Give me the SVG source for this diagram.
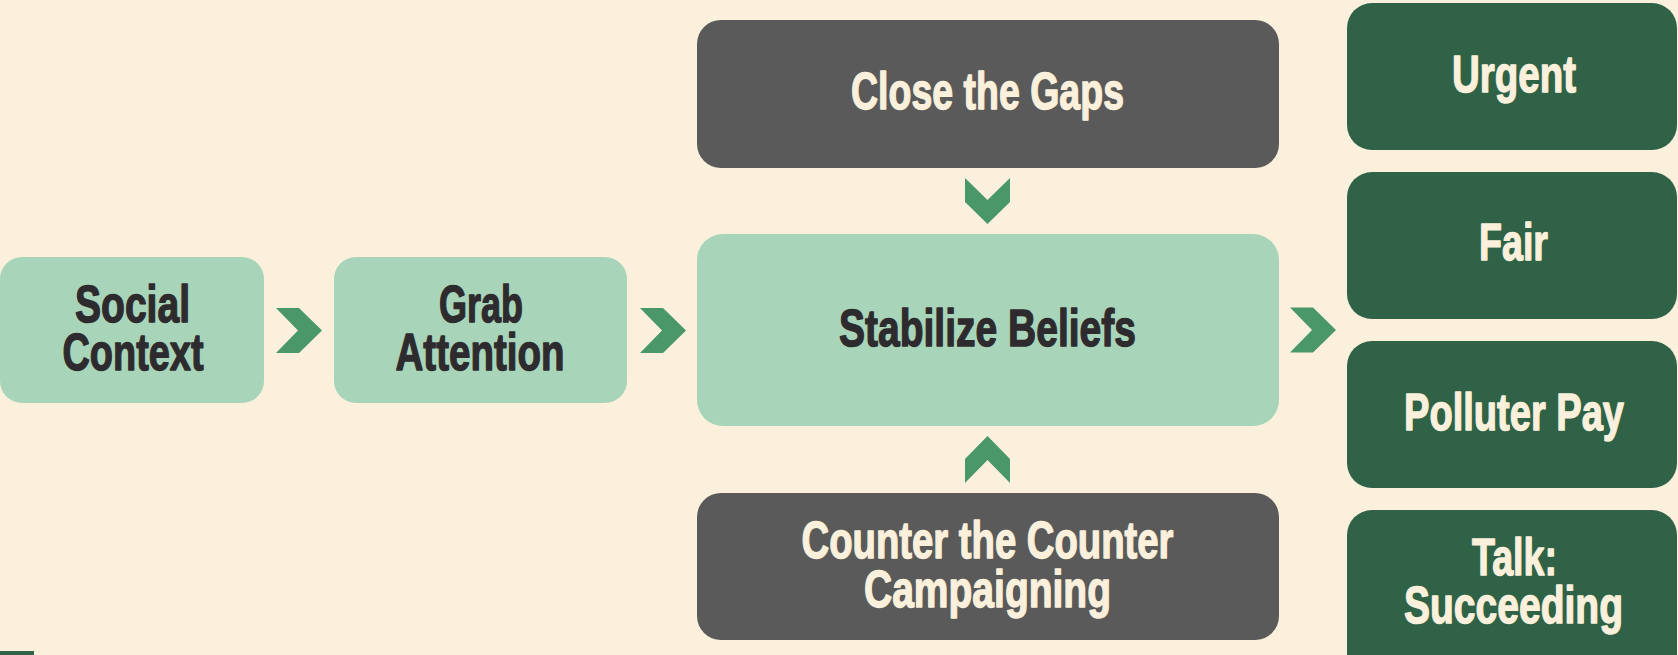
<svg xmlns="http://www.w3.org/2000/svg" width="1678" height="655" viewBox="0 0 1678 655">
  <defs>
    <style>
      .bg { fill: #FAF0DC; }
      .light { fill: #A8D5BA; }
      .grey { fill: #5A5A5A; }
      .deep { fill: #2F6246; }
      .chev { fill: #4A976A; }
      text { font-family: "Liberation Sans", Arial, sans-serif; font-weight: bold; font-size: 52px; text-anchor: middle; stroke-width: 1.4px; stroke-linejoin: round; }
      .dark { fill: #2E2B2E; stroke: #2E2B2E; }
      .pale { fill: #FAF0DC; stroke: #FAF0DC; }
    </style>
    <!-- chevron pointing right, 46 x 45 -->
    <polygon id="chevR" points="0,0 23,0 46,22.5 23,45 0,45 22,22.5"/>
  </defs>

  <rect class="bg" x="0" y="0" width="1678" height="655"/>

  <g id="social-context">
    <rect class="light" x="0" y="257" width="264" height="146" rx="22"/>
    <text class="dark" x="132.5" y="322" textLength="115" lengthAdjust="spacingAndGlyphs">Social</text>
    <text class="dark" x="133" y="370" textLength="141" lengthAdjust="spacingAndGlyphs">Context</text>
  </g>

  <g id="grab-attention">
    <rect class="light" x="334" y="257" width="293" height="146" rx="22"/>
    <text class="dark" x="481" y="322" textLength="84" lengthAdjust="spacingAndGlyphs">Grab</text>
    <text class="dark" x="480" y="370" textLength="169" lengthAdjust="spacingAndGlyphs">Attention</text>
  </g>

  <g id="close-the-gaps">
    <rect class="grey" x="697" y="20" width="582" height="148" rx="24"/>
    <text class="pale" x="987.5" y="109" textLength="273" lengthAdjust="spacingAndGlyphs">Close the Gaps</text>
  </g>

  <g id="stabilize-beliefs">
    <rect class="light" x="697" y="234" width="582" height="192" rx="26"/>
    <text class="dark" x="987.5" y="346" textLength="297" lengthAdjust="spacingAndGlyphs">Stabilize Beliefs</text>
  </g>

  <g id="counter-the-counter">
    <rect class="grey" x="697" y="493" width="582" height="147" rx="24"/>
    <text class="pale" x="987.5" y="558" textLength="372" lengthAdjust="spacingAndGlyphs">Counter the Counter</text>
    <text class="pale" x="987.5" y="607" textLength="247" lengthAdjust="spacingAndGlyphs">Campaigning</text>
  </g>

  <g id="urgent">
    <rect class="deep" x="1347" y="3" width="330" height="147" rx="25"/>
    <text class="pale" x="1514" y="92" textLength="124" lengthAdjust="spacingAndGlyphs">Urgent</text>
  </g>

  <g id="fair">
    <rect class="deep" x="1347" y="172" width="330" height="147" rx="25"/>
    <text class="pale" x="1513.5" y="260" textLength="69" lengthAdjust="spacingAndGlyphs">Fair</text>
  </g>

  <g id="polluter-pay">
    <rect class="deep" x="1347" y="341" width="330" height="147" rx="25"/>
    <text class="pale" x="1514" y="430" textLength="220" lengthAdjust="spacingAndGlyphs">Polluter Pay</text>
  </g>

  <g id="talk-succeeding">
    <rect class="deep" x="1347" y="510" width="330" height="170" rx="25"/>
    <text class="pale" x="1514.5" y="575" textLength="85" lengthAdjust="spacingAndGlyphs">Talk:</text>
    <text class="pale" x="1513.5" y="623" textLength="219" lengthAdjust="spacingAndGlyphs">Succeeding</text>
  </g>

  <g id="corner-tab">
    <rect class="deep" x="0" y="651" width="34" height="4"/>
  </g>

  <g id="connectors" class="chev">
    <use href="#chevR" x="276" y="308"/>
    <use href="#chevR" x="640" y="308"/>
    <use href="#chevR" x="1290" y="307.5"/>
    <!-- into Stabilize Beliefs from above -->
    <polygon points="965,178 987.5,200 1010,178 1010,202 987.5,224 965,202"/>
    <!-- into Stabilize Beliefs from below -->
    <polygon points="987.5,436 1010,459 1010,483 987.5,460 965,483 965,459"/>
  </g>
</svg>
